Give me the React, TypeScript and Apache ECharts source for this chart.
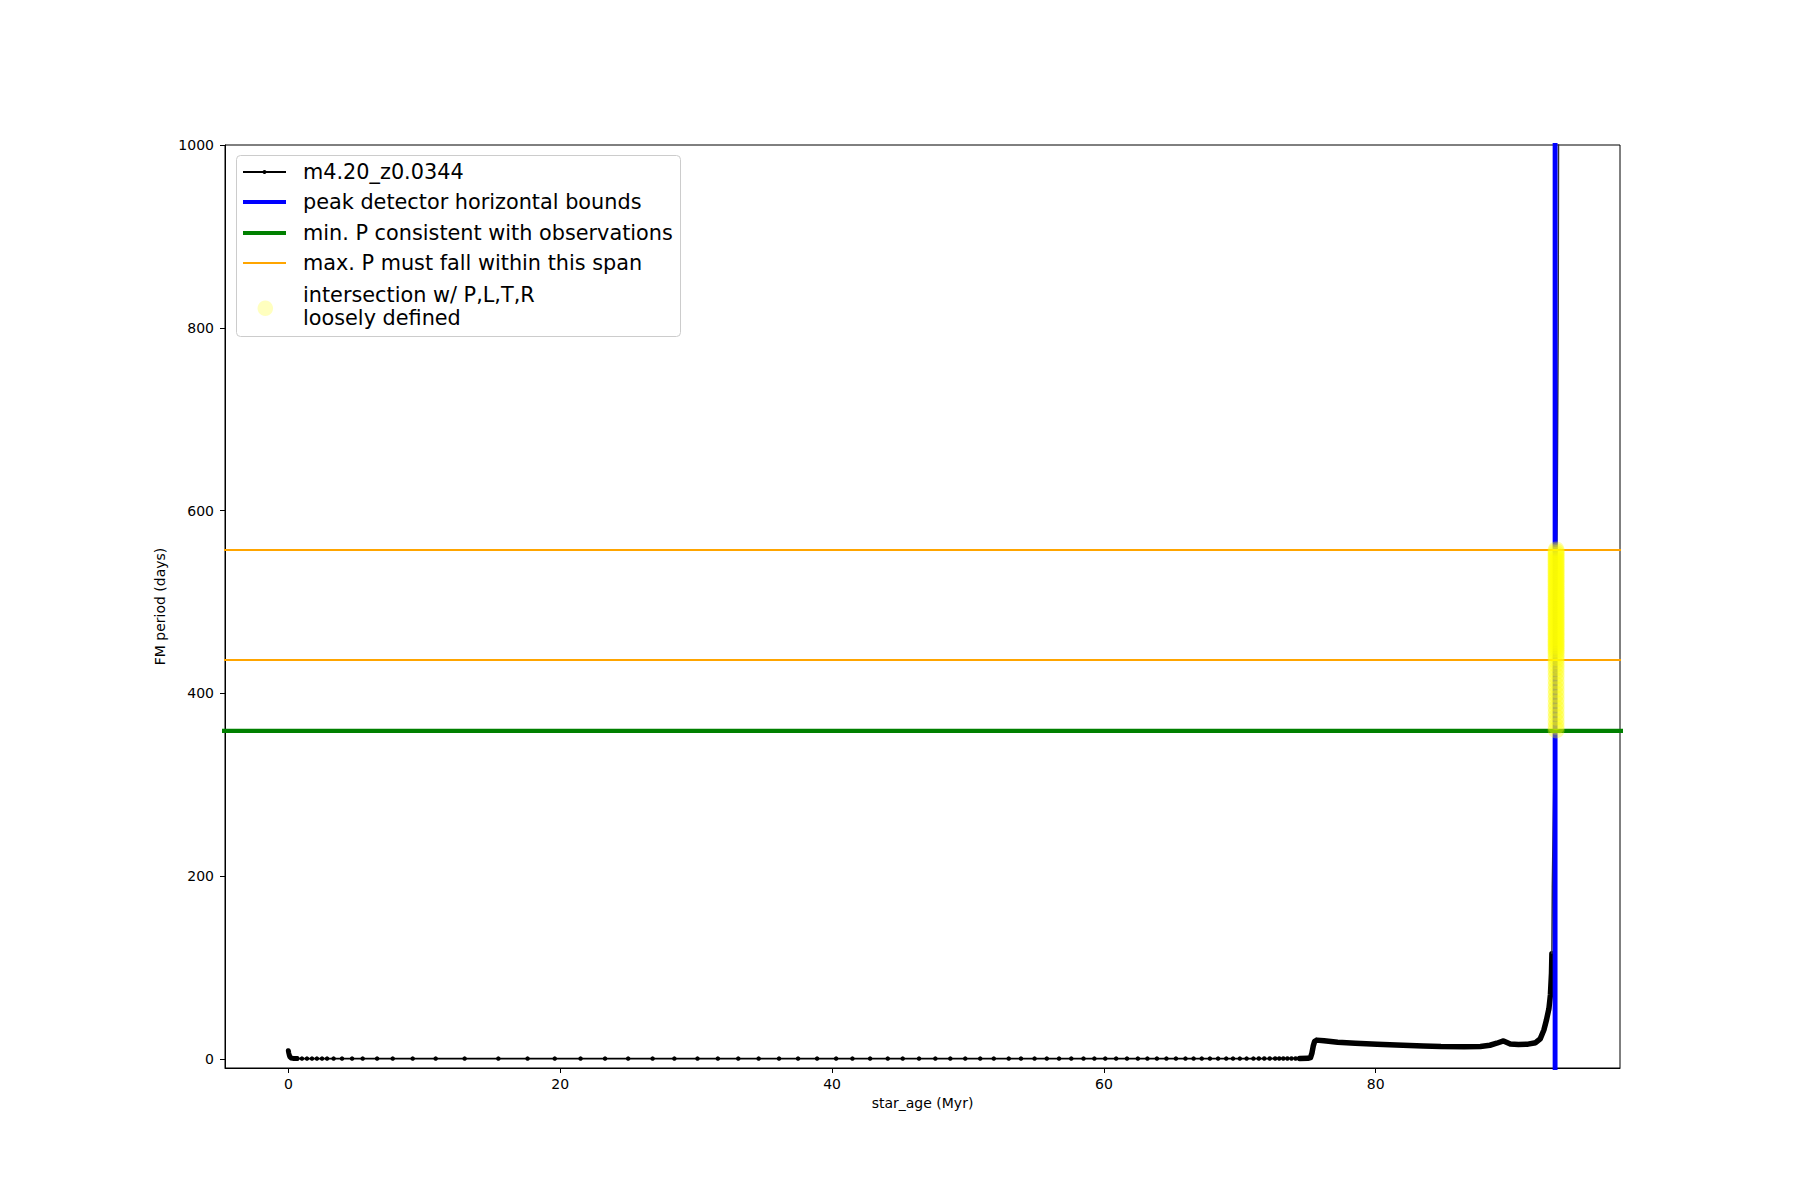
import React, { useEffect, useRef } from "react";
import * as echarts from "echarts";

// Axis ticks / ranges
const X_TICKS = [0, 20, 40, 60, 80];
const Y_TICKS = [0, 200, 400, 600, 800, 1000];
const X_MIN = -4.66;
const X_MAX = 97.97;
const Y_MIN = -9.9;
const Y_MAX = 1000;

// main sequence, individual timesteps [age Myr, FM period days]
const MS_POINTS: [number, number][] = [
  [0.64, 0.4], [1.0, 0.4], [1.37, 0.4], [1.74, 0.4], [2.1, 0.4], [2.48, 0.4], [2.85, 0.4],
  [3.33, 0.4], [3.95, 0.4], [4.69, 0.4], [5.47, 0.4], [6.53, 0.4], [7.68, 0.4], [9.15, 0.4],
  [10.84, 0.4], [12.97, 0.4], [15.45, 0.4], [17.6, 0.4], [19.6, 0.4], [21.5, 0.4], [23.3, 0.4],
  [25.0, 0.4], [26.8, 0.4], [28.4, 0.4], [30.1, 0.4], [31.6, 0.4], [33.1, 0.4], [34.6, 0.4],
  [36.1, 0.4], [37.5, 0.4], [38.9, 0.4], [40.3, 0.4], [41.5, 0.4], [42.8, 0.4], [44.1, 0.4],
  [45.2, 0.4], [46.4, 0.4], [47.6, 0.4], [48.7, 0.4], [49.8, 0.4], [50.9, 0.4], [51.9, 0.4],
  [53.0, 0.4], [53.9, 0.4], [54.9, 0.4], [55.8, 0.4], [56.7, 0.4], [57.6, 0.4], [58.5, 0.4],
  [59.3, 0.4], [60.1, 0.4], [60.9, 0.4], [61.7, 0.4], [62.5, 0.4], [63.2, 0.4], [63.9, 0.4],
  [64.6, 0.4], [65.3, 0.4], [66.0, 0.4], [66.6, 0.4], [67.2, 0.4], [67.8, 0.4], [68.4, 0.4],
  [69.0, 0.4], [69.5, 0.4], [70.0, 0.4], [70.5, 0.4], [71.0, 0.4], [71.4, 0.45], [71.8, 0.45],
  [72.2, 0.45], [72.6, 0.5], [72.9, 0.5], [73.2, 0.5], [73.5, 0.5], [73.8, 0.55], [74.1, 0.55],
  [74.4, 0.6],
];

// dense start of track (pre-MS relaxation)
const START_POINTS: [number, number][] = [
  [0.0, 9], [0.03, 6.5], [0.07, 4], [0.12, 2.2], [0.2, 1.1], [0.35, 0.6], [0.64, 0.4],
];

// dense post-main-sequence track
const POST_POINTS: [number, number][] = [
  [74.4, 0.6], [75.0, 0.7], [75.2, 1.5], [75.3, 6], [75.4, 14], [75.5, 19], [75.65, 20.6],
  [76.2, 19.8], [77.2, 18.3], [78.5, 17.3], [80.1, 16.0], [81.5, 15.3], [83.5, 14.2],
  [84.8, 13.5], [86.5, 13.3], [87.7, 13.6], [88.4, 15], [88.9, 17.2], [89.4, 19.7],
  [89.9, 16.4], [90.5, 15.8], [91.2, 16.2], [91.76, 17.8], [92.1, 22], [92.37, 31.7],
  [92.55, 42], [92.74, 55], [92.85, 70], [92.93, 94], [92.96, 115],
];

// final steep rise (sparse, thin)
const RISE_POINTS: [number, number][] = [
  [92.96, 115], [92.99, 188], [93.05, 250], [93.2, 400], [93.35, 600], [93.42, 800], [93.46, 1100],
];

// peak detector horizontal bounds (ages)
const PEAK_BOUNDS = [93.17, 93.22];
// min. period consistent with observations
const MIN_P = 359;
// max. period span
const MAX_P_SPAN = [436.5, 557];

// intersection points (age, period)
const INTERSECT_AGE = 93.27;
const INTERSECT_P = [
  557, 555, 553, 551, 549, 547, 545, 543, 541, 539, 537, 535, 533, 531, 529, 527, 525, 523,
  521, 519, 517, 515, 513, 511, 509, 507, 505, 503, 501, 499, 497, 495, 493, 491, 489, 487,
  485, 483, 481, 479, 477, 475, 473, 471, 469, 467, 465, 463, 461, 459, 457, 455, 453, 451,
  449, 447, 445, 442, 439, 436, 432, 428, 424, 419, 414, 409, 404, 399, 394, 389, 384, 379,
  374, 369, 364, 360,
];

const FONT = "DejaVu Sans";

export default function App() {
  const ref = useRef<HTMLDivElement>(null);
  useEffect(() => {
    if (!ref.current) return;
    const chart = echarts.init(ref.current, undefined, { renderer: "svg" });

    const axisText = { color: "#000", fontSize: 14, fontFamily: FONT };

    const series: any[] = [
      {
        type: "line",
        data: MS_POINTS,
        symbol: "circle",
        symbolSize: 4.5,
        showSymbol: true,
        itemStyle: { color: "#000" },
        lineStyle: { color: "#000", width: 1.8 },
        z: 2,
        silent: true,
      },
      {
        type: "line",
        data: START_POINTS,
        symbol: "none",
        lineStyle: { color: "#000", width: 5, cap: "round", join: "round" },
        z: 2,
        silent: true,
      },
      {
        type: "line",
        data: POST_POINTS,
        symbol: "none",
        lineStyle: { color: "#000", width: 5.5, cap: "round", join: "round" },
        z: 2,
        silent: true,
      },
      {
        type: "line",
        data: RISE_POINTS,
        symbol: "none",
        lineStyle: { color: "#333", width: 1.5 },
        z: 2,
        silent: true,
      },
      ...PEAK_BOUNDS.map((a) => ({
        type: "line",
        data: [
          [a, -100],
          [a, 1200],
        ],
        symbol: "none",
        lineStyle: { color: "#0000ff", width: 4.2 },
        z: 3,
        silent: true,
      })),
      {
        type: "line",
        data: [
          [-20, MIN_P],
          [120, MIN_P],
        ],
        symbol: "none",
        lineStyle: { color: "#008000", width: 4.2 },
        z: 4,
        silent: true,
      },
      ...MAX_P_SPAN.map((p) => ({
        type: "line",
        data: [
          [-20, p],
          [120, p],
        ],
        symbol: "none",
        lineStyle: { color: "#ffa500", width: 2 },
        z: 4,
        silent: true,
      })),
      {
        type: "scatter",
        data: INTERSECT_P.map((p) => [INTERSECT_AGE, p]),
        symbol: "circle",
        symbolSize: 17,
        itemStyle: { color: "rgba(255,255,0,0.42)" },
        z: 5,
        silent: true,
      },
    ];

    // legend drawn with graphic
    const LX1 = 243;
    const LX2 = 286;
    const TX = 303;
    const rows = [172, 202, 233, 263];
    const legendFont = { fontSize: 20.8, fontFamily: FONT, fill: "#000", verticalAlign: "middle", align: "left" };
    const graphic: any[] = [
      {
        type: "rect",
        shape: { x: 236.5, y: 155.5, width: 444, height: 181, r: 4 },
        style: { fill: "rgba(255,255,255,0.8)", stroke: "#cccccc", lineWidth: 1 },
        z: 100,
      },
      { type: "line", shape: { x1: LX1, y1: rows[0], x2: LX2, y2: rows[0] }, style: { stroke: "#000", lineWidth: 1.8 }, z: 101 },
      { type: "circle", shape: { cx: (LX1 + LX2) / 2, cy: rows[0], r: 2 }, style: { fill: "#000" }, z: 101 },
      { type: "line", shape: { x1: LX1, y1: rows[1], x2: LX2, y2: rows[1] }, style: { stroke: "#0000ff", lineWidth: 4.2 }, z: 101 },
      { type: "line", shape: { x1: LX1, y1: rows[2], x2: LX2, y2: rows[2] }, style: { stroke: "#008000", lineWidth: 4.2 }, z: 101 },
      { type: "line", shape: { x1: LX1, y1: rows[3], x2: LX2, y2: rows[3] }, style: { stroke: "#ffa500", lineWidth: 2 }, z: 101 },
      { type: "circle", shape: { cx: 265.3, cy: 308.3, r: 7.8 }, style: { fill: "rgba(255,255,0,0.25)" }, z: 101 },
      { type: "text", style: { ...legendFont, text: "m4.20_z0.0344", x: TX, y: rows[0] }, z: 101 },
      { type: "text", style: { ...legendFont, text: "peak detector horizontal bounds", x: TX, y: rows[1] }, z: 101 },
      { type: "text", style: { ...legendFont, text: "min. P consistent with observations", x: TX, y: rows[2] }, z: 101 },
      { type: "text", style: { ...legendFont, text: "max. P must fall within this span", x: TX, y: rows[3] }, z: 101 },
      { type: "text", style: { ...legendFont, text: "intersection w/ P,L,T,R", x: TX, y: 295 }, z: 101 },
      { type: "text", style: { ...legendFont, text: "loosely defined", x: TX, y: 318 }, z: 101 },
    ];

    chart.setOption({
      animation: false,
      backgroundColor: "#fff",
      grid: {
        left: 225,
        right: 180,
        top: 145,
        bottom: 132,
        show: true,
        borderColor: "#000",
        borderWidth: 1,
        backgroundColor: "transparent",
      },
      xAxis: {
        type: "value",
        min: X_MIN,
        max: X_MAX,
        axisLine: { show: true, onZero: false, lineStyle: { color: "#000", width: 1 } },
        axisTick: { show: true, length: 5, customValues: X_TICKS, lineStyle: { color: "#000", width: 1 } },
        axisLabel: { ...axisText, margin: 9, customValues: X_TICKS, formatter: (v: number) => String(v) },
        splitLine: { show: false },
        name: "star_age (Myr)",
        nameLocation: "middle",
        nameGap: 28,
        nameTextStyle: axisText,
      },
      yAxis: {
        type: "value",
        min: Y_MIN,
        max: Y_MAX,
        axisLine: { show: true, onZero: false, lineStyle: { color: "#000", width: 1 } },
        axisTick: { show: true, length: 5, customValues: Y_TICKS, lineStyle: { color: "#000", width: 1 } },
        axisLabel: { ...axisText, margin: 11, customValues: Y_TICKS, formatter: (v: number) => String(v) },
        splitLine: { show: false },
        name: "FM period (days)",
        nameLocation: "middle",
        nameGap: 42,
        nameRotate: 90,
        nameTextStyle: axisText,
      },
      series,
      graphic,
    });
    return () => chart.dispose();
  }, []);
  return (
    <div
      ref={ref}
      style={{ position: "absolute", left: 0, top: 0, width: 1800, height: 1200, background: "#fff" }}
    />
  );
}
